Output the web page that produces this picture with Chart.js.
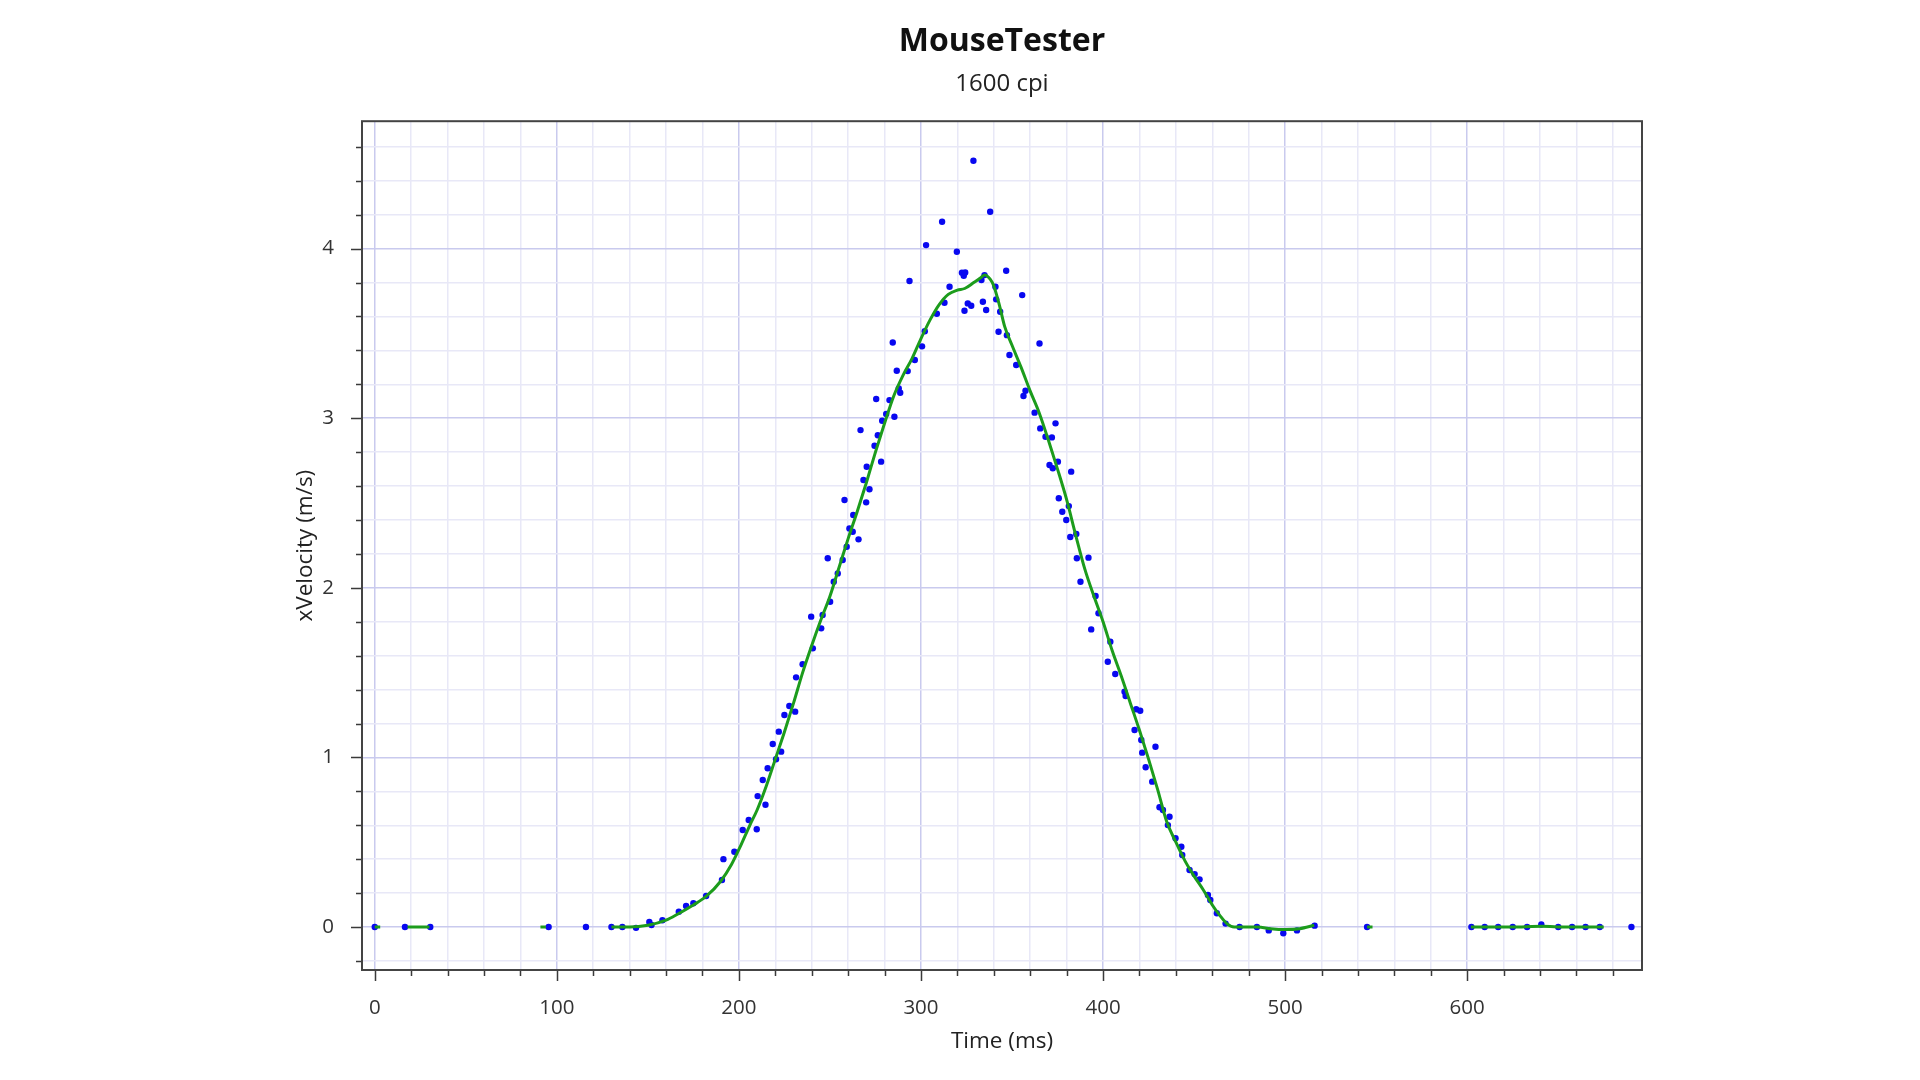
<!DOCTYPE html>
<html>
<head>
<meta charset="utf-8">
<title>MouseTester</title>
<script src="https://cdn.jsdelivr.net/npm/chart.js@4.4.1/dist/chart.umd.min.js"></script>
<style>
  html, body { margin: 0; padding: 0; background: #fff; }
  #wrap { width: 1920px; height: 1080px; }
</style>
</head>
<body>
<div id="wrap"><canvas id="chart" width="1920" height="1080"></canvas></div>
<script>
// raw samples (blue dots)
const dotTimes = [
  0, 16.6, 30.5, 95.5, 116, 130, 136, 143.5, 150.8, 152, 158, 167, 171, 175, 182,
  190.7, 191.5, 197.5, 202.1, 205.4, 209.8, 210.3, 213.1, 214.6, 215.8, 218.6, 220.4,
  221.9, 223.2, 225, 227.7, 230.9, 231.4, 235, 239.7, 240.6, 245.2, 246, 248.8, 250.1,
  252.1, 254.3, 257, 258, 259.2, 260.7, 262.5, 262.8, 265.7, 266.8, 268.4, 269.9, 270.2,
  271.7, 274.5, 275.4, 276.3, 278.1, 278.7, 280.9, 282.7, 284.5, 285.4, 286.7, 287.8,
  288.6, 292.7, 293.7, 296.6, 300.6, 302.1, 302.8, 308.7, 311.6, 312.9, 315.7, 319.7,
  322.5, 323.5, 323.9, 324.3, 325.7, 327.6, 328.8, 333.2, 334, 334.9, 335.8, 338, 340.9,
  341.3, 342.6, 343.5, 346.8, 347.2, 348.6, 352.3, 355.6, 356.3, 357.4, 362.4, 365.1,
  365.5, 368.4, 370.6, 371.9, 372.4, 373.9, 375.2, 375.7, 377.6, 379.8, 381.2, 382,
  382.5, 385.3, 385.6, 387.6, 392, 393.5, 395.9, 397.5, 402.6, 404, 406.7, 411.8, 412.4,
  417.3, 418.2, 420.4, 421, 421.5, 423.4, 427, 428.8, 431, 432.9, 435.6, 436.5, 439.8,
  443, 443.5, 447.5, 450.3, 453, 457.6, 458.9, 462.5, 467.3, 475, 484.5, 491, 499,
  506.5, 516.2, 545, 602.3, 609.6, 617, 625, 632.9, 640.7, 650, 657.6, 665, 672.8, 690.2
];
const dotVelocity = [
  0, 0, 0, 0, 0, 0, 0, -0.005, 0.03, 0.012, 0.04, 0.09, 0.124, 0.14, 0.183,
  0.277, 0.40, 0.444, 0.572, 0.631, 0.576, 0.772, 0.867, 0.721, 0.936, 1.079, 0.989,
  1.152, 1.034, 1.25, 1.303, 1.27, 1.472, 1.55, 1.83, 1.643, 1.761, 1.84, 2.174, 1.918,
  2.036, 2.085, 2.164, 2.518, 2.242, 2.35, 2.331, 2.429, 2.286, 2.93, 2.636, 2.504, 2.714,
  2.581, 2.838, 3.113, 2.90, 2.744, 2.985, 3.025, 3.107, 3.447, 3.009, 3.28, 3.176,
  3.15, 3.278, 3.809, 3.343, 3.424, 3.513, 4.021, 3.616, 4.159, 3.681, 3.775, 3.982,
  3.858, 3.84, 3.634, 3.86, 3.677, 3.663, 4.518, 3.815, 3.687, 3.844, 3.638, 4.218, 3.775,
  3.701, 3.51, 3.628, 3.87, 3.49, 3.373, 3.314, 3.726, 3.131, 3.162, 3.033, 3.441,
  2.94, 2.891, 2.724, 2.887, 2.705, 2.97, 2.744, 2.528, 2.449, 2.40, 2.482, 2.30,
  2.685, 2.317, 2.174, 2.036, 2.178, 1.755, 1.952, 1.85, 1.564, 1.682, 1.492, 1.387, 1.362,
  1.162, 1.284, 1.275, 1.103, 1.028, 0.942, 0.857, 1.063, 0.706, 0.69, 0.601, 0.65, 0.523,
  0.473, 0.425, 0.336, 0.312, 0.281, 0.189, 0.159, 0.081, 0.02, 0, 0, -0.02, -0.037,
  -0.02, 0.008, 0, 0, 0, 0, 0, 0, 0.015, 0, 0, 0, 0, 0
];

// smoothed trace (green line), null = break in the line
const lineTimes = [
  0, 3, 10,
  18, 30, 60,
  91, 94, 110,
  130, 140, 150, 160, 167, 175, 182, 190, 196, 201, 206, 210, 215, 220, 225, 230, 235,
  240, 245, 250, 255, 260, 265, 270, 275, 280, 285, 290, 295, 300, 305, 310, 315, 320,
  324, 329, 333, 335, 338, 340, 343, 346, 350, 355, 360, 365, 370, 375, 380, 385, 390,
  395, 400, 405, 410, 415, 420, 425, 430, 435, 440, 445, 450, 455, 460, 464, 468, 472,
  485, 492, 500, 508, 516, 530,
  545, 548, 570,
  602, 610, 620, 630, 641, 650, 660, 675
];
const lineVelocity = [
  0, 0, null,
  0, 0, null,
  0, 0, null,
  0, 0, 0.01, 0.04, 0.08, 0.13, 0.18, 0.27, 0.37, 0.48, 0.60, 0.69, 0.83, 0.99, 1.15, 1.32, 1.50,
  1.66, 1.81, 1.95, 2.12, 2.29, 2.45, 2.62, 2.80, 2.97, 3.13, 3.25, 3.35, 3.47, 3.58, 3.67, 3.73, 3.755,
  3.765, 3.80, 3.83, 3.845, 3.82, 3.78, 3.67, 3.54, 3.43, 3.30, 3.16, 3.03, 2.87, 2.70, 2.52, 2.31, 2.11,
  1.95, 1.80, 1.63, 1.48, 1.32, 1.16, 0.99, 0.81, 0.62, 0.50, 0.39, 0.30, 0.22, 0.13, 0.07, 0.02, 0,
  0, -0.01, -0.015, -0.01, 0.01, null,
  0, 0, null,
  0, 0, 0, 0, 0.005, 0, 0, 0
];

const xTickStep = 20;
const yTickStep = 0.2;

const FONT = "'Open Sans', 'Noto Sans', sans-serif";
const isWhole = (v, step) => Math.abs(v / step - Math.round(v / step)) < 1e-6;

// plot frame + outward tick marks (major longer than minor)
const frameAndTicks = {
  id: 'frameAndTicks',
  afterDraw(chart) {
    const { ctx, chartArea: a, scales: { x, y } } = chart;
    ctx.save();
    ctx.strokeStyle = '#3a3a3a';
    ctx.lineWidth = 1.5;
    ctx.beginPath();
    x.ticks.forEach(t => {
      const px = Math.round(x.getPixelForValue(t.value)) + 0.5;
      const len = isWhole(t.value, 100) ? 11 : 6;
      ctx.moveTo(px, a.bottom);
      ctx.lineTo(px, a.bottom + len);
    });
    y.ticks.forEach(t => {
      const py = Math.round(y.getPixelForValue(t.value)) + 0.5;
      const len = isWhole(t.value, 1) ? 11 : 6;
      ctx.moveTo(a.left, py);
      ctx.lineTo(a.left - len, py);
    });
    ctx.stroke();
    ctx.lineWidth = 2;
    ctx.strokeStyle = '#444';
    ctx.strokeRect(a.left, a.top, a.right - a.left, a.bottom - a.top);
    ctx.restore();
  }
};

new Chart(document.getElementById('chart'), {
  type: 'scatter',
  data: {
    datasets: [
      {
        label: 'smoothed',
        data: lineTimes.map((t, i) => ({ x: t, y: lineVelocity[i] })),
        showLine: true,
        spanGaps: false,
        borderColor: '#1c9c1c',
        borderWidth: 3,
        pointRadius: 0,
        cubicInterpolationMode: 'monotone',
        order: 0
      },
      {
        label: 'xVelocity',
        data: dotTimes.map((t, i) => ({ x: t, y: dotVelocity[i] })),
        backgroundColor: '#0808f0',
        borderWidth: 0,
        pointRadius: 3.2,
        order: 1
      }
    ]
  },
  options: {
    responsive: false,
    animation: false,
    layout: { padding: { left: 262, right: 278, top: 0, bottom: 0 } },
    plugins: {
      legend: { display: false },
      tooltip: { enabled: false },
      title: {
        display: true,
        text: 'MouseTester',
        fullSize: false,
        color: '#111',
        font: { family: FONT, size: 32, weight: 'bold' },
        padding: { top: 22.5, bottom: 8.5 }
      },
      subtitle: {
        display: true,
        text: '1600 cpi',
        fullSize: false,
        color: '#222',
        font: { family: FONT, size: 24 },
        padding: { top: 0, bottom: 23 }
      }
    },
    scales: {
      x: {
        type: 'linear',
        min: -7,
        max: 696,
        afterFit: s => { s.height = 110; },
        border: { display: false },
        grid: {
          drawTicks: false,
          lineWidth: 1.5,
          color: c => isWhole(c.tick.value, 100) ? '#c9caee' : '#e8e8f7'
        },
        ticks: {
          stepSize: xTickStep,
          includeBounds: false,
          autoSkip: false,
          maxRotation: 0,
          padding: 26,
          color: '#333',
          font: { family: FONT, size: 20.5 },
          callback: v => isWhole(v, 100) ? String(Math.round(v)) : ''
        },
        title: {
          display: true,
          text: 'Time (ms)',
          color: '#222',
          font: { family: FONT, size: 22.5 },
          padding: { top: 0, bottom: 25 }
        }
      },
      y: {
        type: 'linear',
        min: -0.2535,
        max: 4.7515,
        afterFit: s => { s.width = 100; },
        border: { display: false },
        grid: {
          drawTicks: false,
          lineWidth: 1.5,
          color: c => isWhole(c.tick.value, 1) ? '#c9caee' : '#e8e8f7'
        },
        ticks: {
          stepSize: yTickStep,
          includeBounds: false,
          autoSkip: false,
          padding: 28,
          color: '#333',
          font: { family: FONT, size: 20.5 },
          callback: v => isWhole(v, 1) ? String(Math.round(v)) : ''
        },
        title: {
          display: true,
          text: 'xVelocity (m/s)',
          color: '#222',
          font: { family: FONT, size: 22.5 },
          padding: { top: 30, bottom: 0 }
        }
      }
    }
  },
  plugins: [frameAndTicks]
});
</script>
</body>
</html>
